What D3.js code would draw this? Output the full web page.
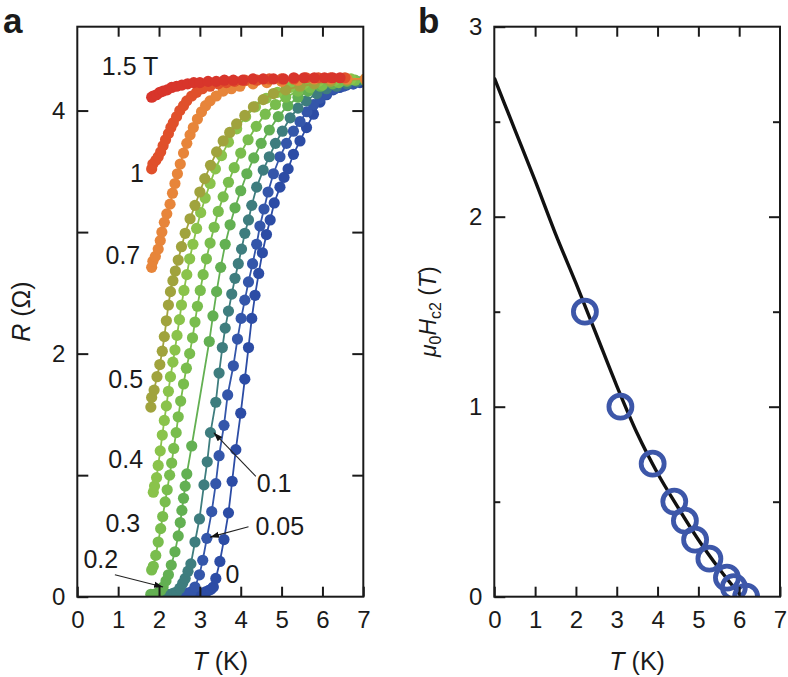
<!DOCTYPE html>
<html><head><meta charset="utf-8">
<script src="https://cdn.jsdelivr.net/npm/d3@7"></script>
<style>
body{margin:0;background:#fff}
svg{display:block}
text{font-family:"Liberation Sans",Arial,Helvetica,sans-serif;fill:#1a1a1a}
</style>
</head><body>
<svg id="c" width="788" height="677"></svg>
<script>
// ---------- DATA (panel a: R vs T for each field) ----------
const fields = ["0", "0.05", "0.1", "0.2", "0.3", "0.4", "0.5", "0.7", "1", "1.5"];
const curve_0T = [[2.66,0.02],[2.74,0.02],[2.82,0.02],[2.90,0.03],[2.98,0.03],[3.06,0.03],[3.14,0.04],[3.21,0.05],[3.27,0.06],[3.33,0.08],[3.39,0.15],[3.49,0.29],[3.59,0.47],[3.70,0.69],[3.79,0.95],[3.88,1.21],[4.00,1.51],[4.10,1.79],[4.19,2.05],[4.27,2.29],[4.35,2.48],[4.44,2.66],[4.53,2.83],[4.63,2.98],[4.72,3.10],[4.82,3.24],[4.96,3.37],[5.06,3.45],[5.16,3.52],[5.29,3.64],[5.45,3.75],[5.61,3.86],[5.78,3.97],[5.94,4.07],[6.10,4.13],[6.26,4.17],[6.42,4.19],[6.59,4.21],[6.76,4.22],[6.92,4.23],[7.05,4.24]];
const curve_005T = [[2.55,0.02],[2.63,0.02],[2.71,0.03],[2.79,0.04],[2.88,0.08],[2.99,0.18],[3.07,0.30],[3.17,0.48],[3.29,0.70],[3.39,0.93],[3.47,1.16],[3.59,1.41],[3.68,1.66],[3.82,1.90],[3.92,2.12],[4.01,2.29],[4.10,2.44],[4.19,2.59],[4.29,2.74],[4.39,2.90],[4.47,3.05],[4.57,3.19],[4.67,3.33],[4.80,3.48],[4.96,3.62],[5.12,3.73],[5.29,3.83],[5.45,3.91],[5.62,3.99],[5.78,4.05],[5.94,4.10],[6.10,4.14],[6.30,4.18],[6.51,4.20],[6.75,4.22],[7.05,4.24]];
const curve_01T = [[2.20,0.02],[2.28,0.02],[2.36,0.03],[2.44,0.04],[2.51,0.07],[2.58,0.11],[2.64,0.15],[2.71,0.21],[2.78,0.27],[2.88,0.45],[2.99,0.64],[3.10,0.92],[3.18,1.11],[3.26,1.35],[3.39,1.60],[3.47,1.84],[3.55,2.05],[3.62,2.21],[3.70,2.35],[3.78,2.49],[3.86,2.62],[3.94,2.74],[4.02,2.86],[4.10,2.99],[4.19,3.10],[4.27,3.22],[4.39,3.37],[4.55,3.51],[4.70,3.62],[4.85,3.73],[5.02,3.83],[5.21,3.94],[5.40,4.02],[5.60,4.08],[5.86,4.14],[6.10,4.18],[6.35,4.20],[6.60,4.22],[6.85,4.24],[7.05,4.25]];
const curve_02T = [[1.80,0.02],[1.88,0.02],[1.96,0.03],[2.04,0.05],[2.10,0.08],[2.17,0.13],[2.23,0.18],[2.30,0.26],[2.39,0.37],[2.47,0.50],[2.52,0.61],[2.56,0.71],[2.60,0.81],[2.64,0.91],[2.68,1.01],[2.80,1.24],[3.23,2.10],[3.32,2.31],[3.41,2.51],[3.51,2.71],[3.62,2.90],[3.74,3.06],[3.86,3.20],[4.00,3.34],[4.15,3.48],[4.32,3.61],[4.50,3.73],[4.70,3.84],[4.92,3.95],[5.15,4.04],[5.40,4.11],[5.65,4.16],[5.95,4.20],[6.25,4.22],[6.60,4.24],[7.05,4.25]];
const curve_03T = [[1.82,0.22],[1.86,0.25],[1.92,0.34],[1.98,0.45],[2.04,0.56],[2.09,0.66],[2.15,0.78],[2.20,0.88],[2.26,1.00],[2.31,1.10],[2.36,1.22],[2.42,1.35],[2.47,1.48],[2.53,1.61],[2.60,1.75],[2.67,1.88],[2.75,2.00],[2.82,2.13],[2.88,2.26],[2.94,2.39],[3.01,2.52],[3.08,2.65],[3.16,2.78],[3.25,2.91],[3.35,3.04],[3.45,3.17],[3.57,3.29],[3.70,3.41],[3.84,3.53],[4.00,3.65],[4.18,3.76],[4.38,3.87],[4.60,3.97],[4.85,4.05],[5.10,4.11],[5.40,4.16],[5.70,4.19],[6.00,4.21],[6.40,4.23],[6.80,4.25],[7.05,4.25]];
const curve_04T = [[1.86,0.86],[1.89,0.91],[1.94,0.98],[1.98,1.08],[2.03,1.20],[2.08,1.33],[2.13,1.45],[2.18,1.57],[2.23,1.69],[2.28,1.81],[2.34,1.93],[2.39,2.03],[2.44,2.15],[2.50,2.28],[2.55,2.40],[2.61,2.52],[2.68,2.65],[2.75,2.78],[2.83,2.90],[2.92,3.03],[3.02,3.16],[3.13,3.28],[3.25,3.40],[3.38,3.52],[3.53,3.63],[3.70,3.74],[3.90,3.85],[4.12,3.95],[4.36,4.03],[4.62,4.10],[4.90,4.15],[5.20,4.19],[5.55,4.22],[5.90,4.24],[6.30,4.25],[6.70,4.26],[7.05,4.26]];
const curve_05T = [[1.80,1.56],[1.82,1.64],[1.88,1.70],[1.95,1.81],[2.02,1.91],[2.08,2.02],[2.13,2.14],[2.18,2.27],[2.23,2.40],[2.28,2.51],[2.34,2.60],[2.40,2.68],[2.47,2.77],[2.55,2.88],[2.64,2.99],[2.76,3.11],[2.88,3.22],[3.00,3.33],[3.12,3.44],[3.26,3.55],[3.41,3.66],[3.57,3.75],[3.73,3.82],[3.90,3.89],[4.10,3.96],[4.31,4.03],[4.55,4.09],[4.80,4.14],[5.10,4.17],[5.45,4.20],[5.80,4.22],[6.20,4.24],[6.60,4.25],[7.05,4.26]];
const curve_07T = [[1.82,2.71],[1.85,2.76],[1.91,2.80],[1.98,2.86],[2.03,2.93],[2.07,3.00],[2.13,3.08],[2.19,3.15],[2.27,3.23],[2.33,3.32],[2.39,3.40],[2.45,3.48],[2.52,3.56],[2.60,3.65],[2.68,3.73],[2.76,3.80],[2.84,3.86],[2.94,3.93],[3.04,3.99],[3.14,4.04],[3.25,4.08],[3.40,4.12],[3.57,4.16],[3.77,4.18],[3.98,4.20],[4.30,4.22],[4.64,4.23],[5.00,4.24],[5.40,4.25],[5.80,4.26],[6.20,4.26],[6.60,4.26],[7.05,4.26]];
const curve_1T = [[1.82,3.52],[1.85,3.56],[1.92,3.59],[1.98,3.62],[2.04,3.66],[2.10,3.71],[2.16,3.76],[2.23,3.81],[2.29,3.86],[2.35,3.90],[2.43,3.95],[2.51,4.00],[2.60,4.04],[2.68,4.08],[2.80,4.12],[2.92,4.15],[3.06,4.18],[3.25,4.20],[3.45,4.22],[3.65,4.23],[3.85,4.24],[4.10,4.25],[4.40,4.25],[4.70,4.26],[5.00,4.26],[5.30,4.26],[5.60,4.27],[5.90,4.27],[6.20,4.27],[6.55,4.27]];
const curve_15T = [[1.82,4.11],[1.86,4.12],[1.94,4.13],[2.02,4.15],[2.10,4.16],[2.20,4.17],[2.31,4.19],[2.43,4.20],[2.56,4.21],[2.70,4.22],[2.85,4.23],[3.00,4.23],[3.20,4.24],[3.40,4.24],[3.60,4.25],[3.82,4.25],[4.05,4.25],[4.30,4.26],[4.55,4.26],[4.80,4.26],[5.05,4.26],[5.30,4.27],[5.55,4.27],[5.80,4.27],[6.05,4.27],[6.25,4.27],[6.43,4.27]];
const xTicksA = [0,1,2,3,4,5,6,7];
const yTicksA = [0,1,2,3,4];

// ---------- DATA (panel b: Hc2 vs T) ----------
const hc2_T = [2.22, 3.09, 3.88, 4.41, 4.67, 4.92, 5.27, 5.70, 5.87, 6.17];
const hc2_H = [1.5, 1.0, 0.7, 0.5, 0.4, 0.3, 0.2, 0.1, 0.05, 0];
const fit_T = [0, 0.5, 1, 1.5, 2, 2.5, 3, 3.5, 4, 4.5, 5, 5.5, 6.06];
const fit_H = [2.73, 2.46, 2.19, 1.91, 1.65, 1.38, 1.11, 0.86, 0.65, 0.47, 0.30, 0.15, 0];
const xTicksB = [0,1,2,3,4,5,6,7];
const yTicksB = [0,1,2,3];
const yMinorB = [0.5,1.5,2.5];

// ---------- STYLE ----------
const curves = [curve_0T, curve_005T, curve_01T, curve_02T, curve_03T, curve_04T, curve_05T, curve_07T, curve_1T, curve_15T];
const colors = ["#2c4ca5", "#3456aa", "#3e7d7e", "#63b052", "#79bd4d", "#8ac34b", "#a0a33d", "#e7853a", "#e0502b", "#d8352b"];
const FS = 24;
const fmtInt = d3.format("d");

const svg = d3.select("#c");
const defs = svg.append("defs");
defs.append("marker").attr("id","arr").attr("viewBox","0 0 10 10").attr("refX",10).attr("refY",5)
  .attr("markerWidth",9).attr("markerHeight",9).attr("markerUnits","userSpaceOnUse").attr("orient","auto")
  .append("path").attr("d","M0,1.5 L10,5 L0,8.5 Z").attr("fill","#111");

// ================= PANEL A =================
const xa = d3.scaleLinear().domain([0,7]).range([77.3,363.3]);
const ya = d3.scaleLinear().domain([0,4.69]).range([596.7,26.7]);
defs.append("clipPath").attr("id","clipA").append("rect")
  .attr("x",xa(0)).attr("y",ya(4.69)).attr("width",xa(7)-xa(0)).attr("height",ya(0)-ya(4.69));

const gA = svg.append("g").attr("clip-path","url(#clipA)");
const lineA = d3.line().x(d=>xa(d[0])).y(d=>ya(d[1]));
curves.forEach((c,i)=>{
  const g = gA.append("g");
  g.append("path").attr("d",lineA(c)).attr("fill","none").attr("stroke",colors[i]).attr("stroke-width",1.8);
  g.selectAll("circle").data(c).join("circle")
    .attr("cx",d=>xa(d[0])).attr("cy",d=>ya(d[1])).attr("r",5.6).attr("fill",colors[i]);
});

function styleAxis(g){
  g.select(".domain").remove();
  g.selectAll(".tick line").attr("stroke","#1a1a1a").attr("stroke-width",2);
  g.selectAll("text").attr("font-size",FS).attr("fill","#1a1a1a")
    .attr("font-family","'Liberation Sans', Arial, Helvetica, sans-serif");
}
svg.append("g").attr("transform",`translate(0,${ya(0)})`)
  .call(d3.axisBottom(xa).tickValues(xTicksA).tickSize(-10).tickPadding(14).tickFormat(fmtInt)).call(styleAxis);
svg.append("g").attr("transform",`translate(0,${ya(4.69)})`)
  .call(d3.axisTop(xa).tickValues(xTicksA.slice(1,-1)).tickSize(-10).tickFormat("")).call(styleAxis);
svg.append("g").attr("transform",`translate(${xa(0)},0)`)
  .call(d3.axisLeft(ya).tickValues(yTicksA).tickSize(-11).tickPadding(12).tickFormat(d=> d%2===0 ? fmtInt(d) : "")).call(styleAxis);
svg.append("g").attr("transform",`translate(${xa(7)},0)`)
  .call(d3.axisRight(ya).tickValues(yTicksA.slice(1)).tickSize(-11).tickFormat("")).call(styleAxis);
svg.append("rect").attr("x",xa(0)).attr("y",ya(4.69)).attr("width",xa(7)-xa(0)).attr("height",ya(0)-ya(4.69))
  .attr("fill","none").attr("stroke","#1a1a1a").attr("stroke-width",2);

// curve labels (positions in data units)
const labelsA = [
  {t:"1.5 T", x:0.60, y:4.29},
  {t:"1", x:1.29, y:3.41},
  {t:"0.7", x:0.69, y:2.74},
  {t:"0.5", x:0.76, y:1.72},
  {t:"0.4", x:0.76, y:1.06},
  {t:"0.3", x:0.69, y:0.53},
  {t:"0.2", x:0.15, y:0.24},
  {t:"0", x:3.63, y:0.11},
  {t:"0.05", x:4.36, y:0.51},
  {t:"0.1", x:4.39, y:0.86}
];
svg.append("g").selectAll("text").data(labelsA).join("text")
  .attr("x",d=>xa(d.x)).attr("y",d=>ya(d.y)).attr("font-size",FS+1).text(d=>d.t);
const arrowsA = [
  {x1:4.37, y1:0.99, x2:3.34, y2:1.35},
  {x1:4.19, y1:0.575, x2:3.25, y2:0.49},
  {x1:0.92, y1:0.18, x2:2.10, y2:0.08}
];
svg.append("g").selectAll("line").data(arrowsA).join("line")
  .attr("x1",d=>xa(d.x1)).attr("y1",d=>ya(d.y1)).attr("x2",d=>xa(d.x2)).attr("y2",d=>ya(d.y2))
  .attr("stroke","#222").attr("stroke-width",1.1).attr("marker-end","url(#arr)");

// axis titles
const tA = svg.append("text").attr("x",(xa(0)+xa(7))/2).attr("y",670).attr("text-anchor","middle").attr("font-size",FS+1);
tA.append("tspan").attr("font-style","italic").text("T");
tA.append("tspan").text(" (K)");
const rA = svg.append("text").attr("transform",`translate(30,${(ya(0)+ya(4.69))/2}) rotate(-90)`).attr("text-anchor","middle").attr("font-size",FS+1);
rA.append("tspan").attr("font-style","italic").text("R");
rA.append("tspan").text(" (Ω)");
svg.append("text").attr("x",3).attr("y",33).attr("font-size",35).attr("font-weight","bold").text("a");

// ================= PANEL B =================
const xb = d3.scaleLinear().domain([0,7]).range([494.3,780]);
const yb = d3.scaleLinear().domain([0,3]).range([596.7,26.7]);
defs.append("clipPath").attr("id","clipB").append("rect")
  .attr("x",xb(0)).attr("y",yb(3)).attr("width",xb(7)-xb(0)).attr("height",yb(0)-yb(3));
const gB = svg.append("g").attr("clip-path","url(#clipB)");
const fitPts = fit_T.map((t,i)=>[t,fit_H[i]]);
gB.append("path").attr("d",d3.line().x(d=>xb(d[0])).y(d=>yb(d[1])).curve(d3.curveMonotoneX)(fitPts))
  .attr("fill","none").attr("stroke","#111").attr("stroke-width",3.4);
const hc2Pts = hc2_T.map((t,i)=>[t,hc2_H[i]]);
gB.selectAll("circle").data(hc2Pts).join("circle")
  .attr("cx",d=>xb(d[0])).attr("cy",d=>yb(d[1])).attr("r",11.5)
  .attr("fill","none").attr("stroke","#3d57a9").attr("stroke-width",4.8);

svg.append("g").attr("transform",`translate(0,${yb(0)})`)
  .call(d3.axisBottom(xb).tickValues(xTicksB).tickSize(-10).tickPadding(14).tickFormat(fmtInt)).call(styleAxis);
svg.append("g").attr("transform",`translate(0,${yb(3)})`)
  .call(d3.axisTop(xb).tickValues(xTicksB.slice(1,-1)).tickSize(-10).tickFormat("")).call(styleAxis);
svg.append("g").attr("transform",`translate(${xb(0)},0)`)
  .call(d3.axisLeft(yb).tickValues(yTicksB).tickSize(-11).tickPadding(12).tickFormat(fmtInt)).call(styleAxis);
svg.append("g").attr("transform",`translate(${xb(0)},0)`)
  .call(d3.axisLeft(yb).tickValues(yMinorB).tickSize(-6).tickFormat("")).call(styleAxis);
svg.append("g").attr("transform",`translate(${xb(7)},0)`)
  .call(d3.axisRight(yb).tickValues(yTicksB.slice(1,-1)).tickSize(-11).tickFormat("")).call(styleAxis);
svg.append("g").attr("transform",`translate(${xb(7)},0)`)
  .call(d3.axisRight(yb).tickValues(yMinorB).tickSize(-7).tickFormat("")).call(styleAxis);
svg.append("rect").attr("x",xb(0)).attr("y",yb(3)).attr("width",xb(7)-xb(0)).attr("height",yb(0)-yb(3))
  .attr("fill","none").attr("stroke","#1a1a1a").attr("stroke-width",2);

const tB = svg.append("text").attr("x",(xb(0)+xb(7))/2).attr("y",670).attr("text-anchor","middle").attr("font-size",FS+1);
tB.append("tspan").attr("font-style","italic").text("T");
tB.append("tspan").text(" (K)");
const hB = svg.append("text").attr("transform",`translate(436,${(yb(0)+yb(3))/2}) rotate(-90)`).attr("text-anchor","middle").attr("font-size",FS-1);
hB.append("tspan").attr("font-style","italic").text("μ");
hB.append("tspan").attr("font-size",16).attr("dy",5).text("0");
hB.append("tspan").attr("font-style","italic").attr("dy",-5).text("H");
hB.append("tspan").attr("font-size",16).attr("dy",5).text("c2");
hB.append("tspan").attr("dy",-5).text(" (");
hB.append("tspan").attr("font-style","italic").text("T");
hB.append("tspan").text(")");
svg.append("text").attr("x",418).attr("y",33).attr("font-size",35).attr("font-weight","bold").text("b");
</script>
</body></html>
